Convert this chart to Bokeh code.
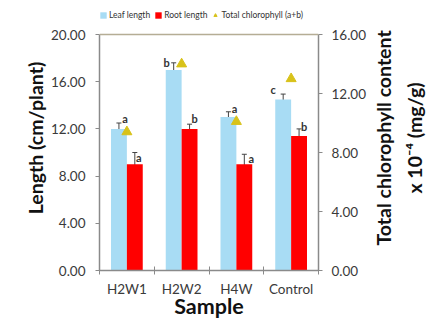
import numpy as np
from bokeh.plotting import figure
from bokeh.layouts import row
from bokeh.models import (ColumnDataSource, Range1d, LinearAxis, FixedTicker, Span,
                          NumeralTickFormatter, Whisker, TeeHead, Legend, LegendItem)
from bokeh.transform import dodge
from bokeh.core.properties import value
from bokeh.embed import file_html
from bokeh.resources import INLINE

# ---- data ----
samples = ["H2W1", "H2W2", "H4W", "Control"]
leaf_length = [12.0, 17.0, 13.0, 14.5]
leaf_err = [0.5, 0.6, 0.45, 0.45]
root_length = [9.0, 12.0, 9.0, 11.4]
root_err = [1.0, 0.4, 0.85, 0.6]
chlorophyll = [9.4, 14.0, 10.1, 13.0]
leaf_letters = ["a", "b", "a", "c"]
root_letters = ["a", "b", "a", "b"]
left_max, right_max = 20, 16
left_ticks = [0, 4, 8, 12, 16, 20]
right_ticks = [0, 4, 8, 12, 16]
right_label_lines = ["Total chlorophyll content", "x 10\u207b\u2074 (mg/g)"]

# ---- styles ----
FONT = "Lato"
BLUE = "#a8dcf4"
RED = "#ff0000"
GOLD = "#d8c21a"
AXIS = "#8a8a8a"
TICKC = "#3a3a3a"
BW = 0.29
leaf_dx = [6, -7, 6, -10]
leaf_dy = [-5, 0, -3, -5]
root_dx = [4, 5, 7, 5]
root_dy = [5, -6, 4, -2]
W_MAIN, W_SIDE, H = 369, 62, 325
TOP, BOTTOM = 5, 55
PLOT_TOP_PX = 34                  # where the top of the value scale sits
FRAME_H = H - BOTTOM - TOP
HEADROOM = FRAME_H / (H - BOTTOM - PLOT_TOP_PX)   # room above for the legend

n = len(samples)
xc = np.arange(n) + 0.5
src = ColumnDataSource(dict(
    x=xc, leaf=leaf_length, root=root_length, chl=chlorophyll,
    leaf_up=np.array(leaf_length) + np.array(leaf_err),
    leaf_lo=np.array(leaf_length) - np.array(leaf_err),
    root_up=np.array(root_length) + np.array(root_err),
    root_lo=np.array(root_length) - np.array(root_err),
    leaf_lab=leaf_letters, root_lab=root_letters,
    leaf_dx=leaf_dx, leaf_dy=leaf_dy, root_dx=root_dx, root_dy=root_dy,
))

p = figure(width=W_MAIN, height=H, output_backend="svg", toolbar_location=None,
           x_range=Range1d(0, n), y_range=Range1d(0, left_max * HEADROOM),
           min_border_left=99, min_border_right=W_MAIN - 320, min_border_top=TOP,
           min_border_bottom=BOTTOM)
p.extra_y_ranges = {"chl": Range1d(0, right_max * HEADROOM)}
p.grid.visible = False
p.outline_line_color = None
p.background_fill_color = "white"
p.border_fill_color = "white"
p.add_layout(Span(location=left_max, dimension="width", line_color="#b5ad95",
                  line_width=1.5))

leaf_r = p.vbar(x=dodge("x", -BW / 2), top="leaf", width=BW, source=src,
                fill_color=BLUE, line_color=None)
root_r = p.vbar(x=dodge("x", BW / 2), top="root", width=BW, source=src,
                fill_color=RED, line_color=None)

for base, up, lo in [(-BW / 2, "leaf_up", "leaf_lo"), (BW / 2, "root_up", "root_lo")]:
    w = Whisker(base=dodge("x", base), upper=up, lower=lo, source=src,
                line_color="#444444", line_width=1,
                upper_head=TeeHead(size=5, line_color="#444444", line_width=1),
                lower_head=TeeHead(size=5, line_color="#444444", line_width=1))
    p.add_layout(w)

chl_r = p.scatter(x="x", y="chl", source=src, marker="triangle", size=10,
                  fill_color=GOLD, line_color=GOLD, y_range_name="chl")

p.text(x=dodge("x", -BW / 2), y="leaf_up", text="leaf_lab", source=src,
       x_offset="leaf_dx", y_offset="leaf_dy", text_align="center",
       text_baseline="middle", text_font=value(FONT), text_font_size="11px",
       text_font_style="bold", text_color="#333333")
p.text(x=dodge("x", BW / 2), y="root_up", text="root_lab", source=src,
       x_offset="root_dx", y_offset="root_dy", text_align="center",
       text_baseline="middle", text_font=value(FONT), text_font_size="11px",
       text_font_style="bold", text_color="#333333")

# left axis
ya = p.yaxis[0]
ya.ticker = FixedTicker(ticks=left_ticks, minor_ticks=[])
ya.formatter = NumeralTickFormatter(format="0.00")
ya.axis_label = "Length (cm/plant)"
ya.bounds = (0, left_max)

# right axis (ticks only; its title is drawn in the side panel)
ra = LinearAxis(y_range_name="chl", ticker=FixedTicker(ticks=right_ticks, minor_ticks=[]),
                formatter=NumeralTickFormatter(format="0.00"), bounds=(0, right_max))
p.add_layout(ra, "right")

# bottom axis
xa = p.xaxis[0]
xa.ticker = FixedTicker(ticks=list(xc), minor_ticks=list(np.arange(n + 1)))
xa.major_label_overrides = {float(x): s for x, s in zip(xc, samples)}
xa.axis_label = "Sample"
xa.major_tick_line_color = None
xa.major_tick_in = 0
xa.major_tick_out = 0
xa.minor_tick_in = 4
xa.minor_tick_out = 4
xa.minor_tick_line_color = AXIS

for ax in [ya, ra, xa]:
    ax.axis_line_color = AXIS
    ax.axis_line_width = 1.5
    ax.major_label_text_font = FONT
    ax.major_label_text_font_size = "13.5px"
    ax.major_label_text_color = TICKC
    ax.axis_label_text_font = FONT
    ax.axis_label_text_font_size = "19.5px"
    ax.axis_label_text_font_style = "bold"
    ax.axis_label_text_color = "#111111"
for ax in [ya, ra]:
    ax.major_tick_line_color = AXIS
    ax.major_tick_in = 0
    ax.major_tick_out = 4
    ax.minor_tick_line_color = None
ya.major_label_standoff = 10
ra.major_label_standoff = 9
ya.axis_label_standoff = 1
xa.major_label_standoff = 6
xa.axis_label_standoff = -7
xa.axis_label_text_font_size = "21.5px"

legend = Legend(items=[
    LegendItem(label="Leaf length", renderers=[leaf_r]),
    LegendItem(label="Root length", renderers=[root_r]),
    LegendItem(label="Total chlorophyll (a+b)", renderers=[chl_r]),
], orientation="horizontal", location=(0, H - BOTTOM - 20), padding=0, margin=0,
    spacing=4, label_standoff=2, glyph_width=8, glyph_height=8,
    label_text_font=FONT, label_text_font_size="8.5px", label_text_color="#333333",
    border_line_color=None, background_fill_alpha=0)
p.add_layout(legend, "center")

# side panel holding the right-hand title, read bottom-to-top
s = figure(width=W_SIDE, height=H, output_backend="svg", toolbar_location=None,
           x_range=Range1d(0, 1), y_range=Range1d(0, 1),
           min_border_left=W_SIDE - 4, min_border_right=0, min_border_top=TOP,
           min_border_bottom=BOTTOM)
s.grid.visible = False
s.xaxis.visible = False
s.outline_line_color = None
s.border_fill_color = "white"
s.background_fill_color = "white"
s.yaxis[0].axis_label = right_label_lines[1]
s.yaxis[0].axis_label_standoff = 6
outer = LinearAxis(axis_label=right_label_lines[0], axis_label_standoff=5)
s.add_layout(outer, "left")
for ax in s.yaxis:
    ax.ticker = FixedTicker(ticks=[])
    ax.axis_line_color = None
    ax.major_tick_line_color = None
    ax.minor_tick_line_color = None
    ax.major_tick_out = 0
    ax.major_tick_in = 0
    ax.minor_tick_out = 0
    ax.major_label_standoff = 0
    ax.axis_label_text_font = FONT
    ax.axis_label_text_font_size = "19.5px"
    ax.axis_label_text_font_style = "bold"
    ax.axis_label_text_color = "#111111"

layout = row(p, s, spacing=0)
open("out.html", "w").write(file_html(layout, INLINE))
